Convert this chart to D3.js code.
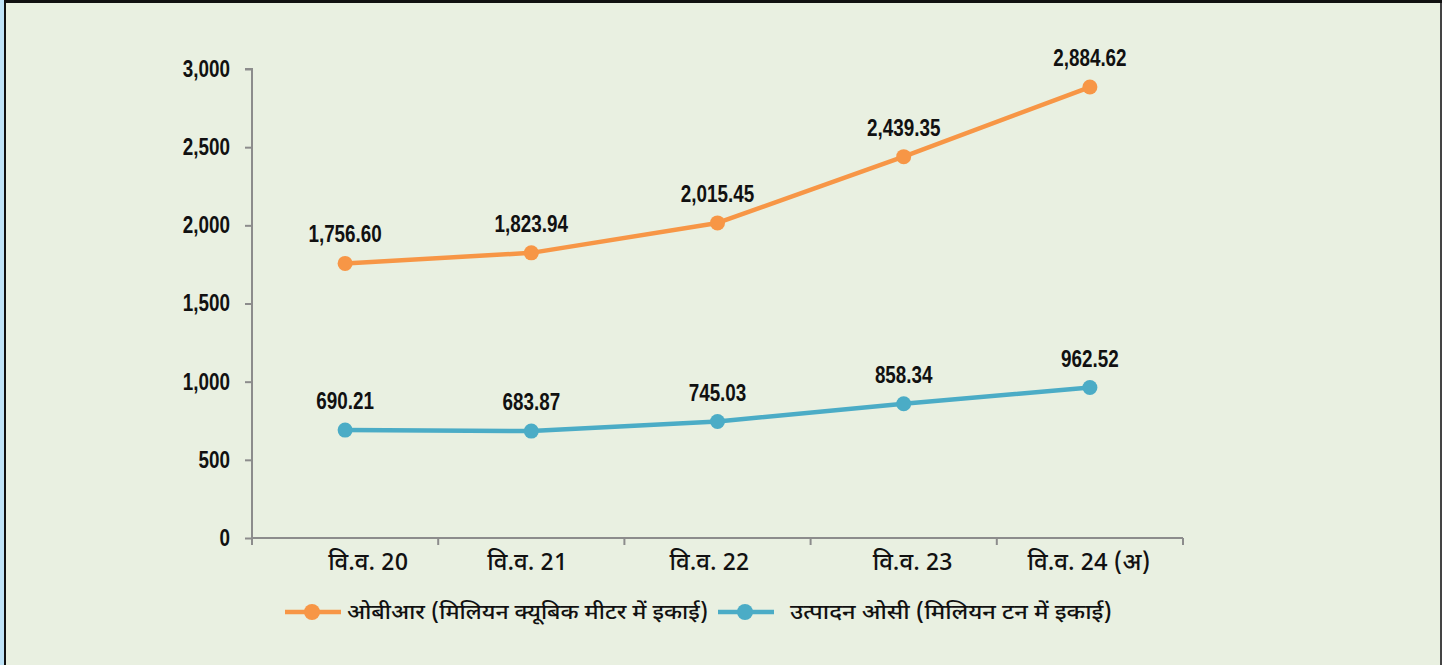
<!DOCTYPE html>
<html>
<head>
<meta charset="utf-8">
<script src="https://cdn.jsdelivr.net/npm/d3@7"></script>
<style>
  html, body { margin: 0; padding: 0; background: #bfe3f7; }
  svg { display: block; }
  .num { font-family: "Liberation Sans", Arial, sans-serif; font-weight: bold; }
  .deva { font-family: "Noto Sans Devanagari", "Lohit Devanagari", "FreeSans", "Noto Sans", sans-serif; font-weight: 500; }
</style>
</head>
<body>
<svg id="chart" width="1442" height="665"></svg>
<script>
const categories = ['वि.व. 20', 'वि.व. 21', 'वि.व. 22', 'वि.व. 23', 'वि.व. 24 (अ)'];
const obrValues = [1756.60, 1823.94, 2015.45, 2439.35, 2884.62];
const ocValues = [690.21, 683.87, 745.03, 858.34, 962.52];
const yTicks = [0, 500, 1000, 1500, 2000, 2500, 3000];
const seriesNames = ['ओबीआर (मिलियन क्यूबिक मीटर में इकाई)', 'उत्पादन ओसी (मिलियन टन में इकाई)'];

const series = [
  { name: seriesNames[0], values: obrValues, color: '#F79646' },
  { name: seriesNames[1], values: ocValues, color: '#4BACC6' }
];

const NARROW = 0.82; // squeeze Liberation Sans bold to look like Arial Narrow
// the source chart's category labels are not quite centred under their bands
const labelShift = [23, -4, -8, 9, -1];

const svg = d3.select('#chart');

// panel background + borders
svg.append('rect').attr('x', 4).attr('y', 0).attr('width', 1438).attr('height', 665).attr('fill', '#111');
svg.append('rect').attr('x', 6).attr('y', 3).attr('width', 1434).attr('height', 662).attr('fill', '#E9F0E1');
svg.append('rect').attr('x', 1440).attr('y', 3).attr('width', 2).attr('height', 662).attr('fill', '#444');

const margin = { left: 252, right: 259, top: 69, bottom: 127 };
const width = 1442 - margin.left - margin.right;
const height = 665 - margin.top - margin.bottom;
const g = svg.append('g').attr('transform', `translate(${margin.left},${margin.top})`);

const x = d3.scaleBand().domain(categories).range([0, width]);
const y = d3.scaleLinear().domain([0, 3000]).range([height, 0]);

// y axis
const yAxis = g.append('g')
  .call(d3.axisLeft(y).tickValues(yTicks).tickSize(7).tickPadding(15).tickFormat(d3.format(',')));
yAxis.selectAll('path, line').attr('stroke', '#8c8c8c').attr('stroke-width', 2);
yAxis.select('.domain').attr('d', `M-7,${y(3000)}H0V${height}`);
yAxis.selectAll('text')
  .attr('class', 'num')
  .attr('font-size', 23)
  .attr('fill', '#111')
  .attr('x', -22 / NARROW)
  .attr('transform', `scale(${NARROW},1)`);

// x axis with ticks at band boundaries
const xAxisG = g.append('g').attr('transform', `translate(0,${height})`);
xAxisG.append('line').attr('x1', 0).attr('x2', width).attr('stroke', '#8c8c8c').attr('stroke-width', 2);
const bounds = categories.map(c => x(c)).concat([width]);
xAxisG.selectAll('.xtick').data(bounds).enter().append('line')
  .attr('x1', d => d).attr('x2', d => d).attr('y1', 0).attr('y2', 7)
  .attr('stroke', '#8c8c8c').attr('stroke-width', 2);
xAxisG.selectAll('.xlabel').data(categories).enter().append('text')
  .attr('class', 'deva')
  .attr('x', (d, i) => x(d) + x.bandwidth() / 2 + labelShift[i])
  .attr('y', 32)
  .attr('text-anchor', 'middle')
  .attr('font-size', 24)
  .attr('fill', '#111')
  .text(d => d);

const line = d3.line()
  .x((d, i) => x(categories[i]) + x.bandwidth() / 2)
  .y(d => y(d));

series.forEach(s => {
  g.append('path')
    .datum(s.values)
    .attr('fill', 'none')
    .attr('stroke', s.color)
    .attr('stroke-width', 4.5)
    .attr('stroke-linejoin', 'round')
    .attr('d', line);

  g.selectAll(null).data(s.values).enter().append('circle')
    .attr('cx', (d, i) => x(categories[i]) + x.bandwidth() / 2)
    .attr('cy', d => y(d))
    .attr('r', 7.5)
    .attr('fill', s.color);

  g.selectAll(null).data(s.values).enter().append('text')
    .attr('class', 'num')
    .attr('transform', (d, i) => `translate(${x(categories[i]) + x.bandwidth() / 2},${y(d) - 21}) scale(${NARROW},1)`)
    .attr('text-anchor', 'middle')
    .attr('font-size', 23)
    .attr('fill', '#111')
    .text(d => d3.format(',.2f')(d));
});

// legend
const legendItems = [
  { s: series[0], lx: 285, tx: 347, tw: 361 },
  { s: series[1], lx: 718, tx: 790, tw: 322 }
];
const legend = svg.append('g').attr('transform', 'translate(0,612)');
legendItems.forEach(it => {
  legend.append('line')
    .attr('x1', it.lx).attr('x2', it.lx + 56).attr('y1', 0).attr('y2', 0)
    .attr('stroke', it.s.color).attr('stroke-width', 4.5);
  legend.append('circle').attr('cx', it.lx + 27).attr('cy', 0).attr('r', 8).attr('fill', it.s.color);
  legend.append('text')
    .attr('class', 'deva')
    .attr('x', it.tx).attr('y', 7)
    .attr('font-size', 21)
    .attr('fill', '#111')
    .attr('textLength', it.tw)
    .attr('lengthAdjust', 'spacingAndGlyphs')
    .text(it.s.name);
});
</script>
</body>
</html>
